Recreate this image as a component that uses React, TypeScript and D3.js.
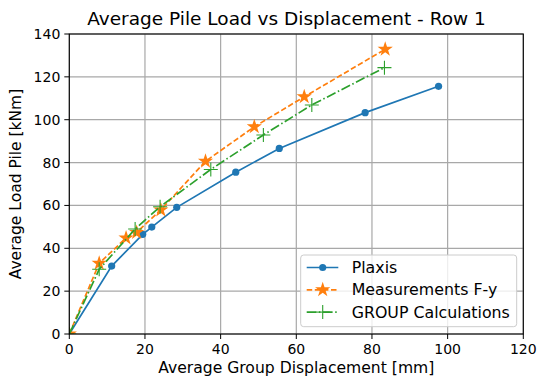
import React from "react";
import * as d3 from "d3";

const plaxisX = [0, 11.2, 19.4, 21.8, 28.4, 44.0, 55.5, 78.2, 97.6];
const plaxisY = [0, 31.7, 46.5, 49.9, 59.1, 75.5, 86.6, 103.3, 115.6];
const measX = [0, 7.9, 15.0, 17.8, 24.2, 36.0, 48.9, 62.1, 83.5];
const measY = [0, 33.0, 44.8, 47.4, 57.9, 80.6, 96.7, 110.7, 132.9];
const groupX = [0, 7.9, 17.4, 24.0, 37.4, 51.3, 64.1, 83.3];
const groupY = [0, 30.2, 49.0, 59.4, 76.8, 92.9, 106.9, 124.3];
const xTicks = [0, 20, 40, 60, 80, 100, 120];
const yTicks = [0, 20, 40, 60, 80, 100, 120, 140];
const seriesNames = ["Plaxis", "Measurements F-y", "GROUP Calculations"];
const colors = ["#1f77b4", "#ff7f0e", "#2ca02c"];

const W = 539, H = 378;
const M = { left: 69.3, right: 523.3, top: 34, bottom: 334 };
const FONT = "DejaVu Sans, sans-serif";

function starPath(R: number) {
  const r = R * 0.381966;
  const pts: string[] = [];
  for (let i = 0; i < 10; i++) {
    const a = -Math.PI / 2 + (i * Math.PI) / 5;
    const rr = i % 2 === 0 ? R : r;
    pts.push(`${(rr * Math.cos(a)).toFixed(2)},${(rr * Math.sin(a)).toFixed(2)}`);
  }
  return "M" + pts.join("L") + "Z";
}

function Marker({ kind, x, y, color }: { kind: number; x: number; y: number; color: string }) {
  if (kind === 0) return <circle cx={x} cy={y} r={3.6} fill={color} />;
  if (kind === 1) return <path d={starPath(8)} transform={`translate(${x},${y})`} fill={color} />;
  return (
    <g transform={`translate(${x},${y})`} stroke={color} strokeWidth={1.1}>
      <line x1={-7} x2={7} y1={0} y2={0} />
      <line x1={0} x2={0} y1={-7} y2={7} />
    </g>
  );
}

export default function App() {
  const x = d3.scaleLinear().domain([0, 120]).range([M.left, M.right]);
  const y = d3.scaleLinear().domain([0, 140]).range([M.bottom, M.top]);
  const line = d3.line<[number, number]>().x((d) => x(d[0])).y((d) => y(d[1]));
  const series = [
    { xs: plaxisX, ys: plaxisY, dash: undefined as string | undefined },
    { xs: measX, ys: measY, dash: "5.5 2.6" },
    { xs: groupX, ys: groupY, dash: "9.6 2.6 1.5 2.6" },
  ];
  const legX = 300.7, legY = 255, legW = 216, legH = 71.7;
  return (
    <svg width={W} height={H} style={{ position: "absolute", left: 0, top: 0, background: "#fff" }} fontFamily={FONT}>
      <rect width={W} height={H} fill="#fff" />
      <defs>
        <clipPath id="clip">
          <rect x={M.left} y={M.top - 10} width={M.right - M.left + 10} height={M.bottom - M.top + 10} />
        </clipPath>
      </defs>
      {xTicks.map((t) => (
        <line key={"gx" + t} x1={x(t)} x2={x(t)} y1={M.top} y2={M.bottom} stroke="#a8a8a8" strokeWidth={1.2} />
      ))}
      {yTicks.map((t) => (
        <line key={"gy" + t} x1={M.left} x2={M.right} y1={y(t)} y2={y(t)} stroke="#a8a8a8" strokeWidth={1.2} />
      ))}
      <g clipPath="url(#clip)">
        {series.map((s, i) => (
          <g key={i}>
            <path
              d={line(s.xs.map((v, j) => [v, s.ys[j]] as [number, number])) || ""}
              fill="none"
              stroke={colors[i]}
              strokeWidth={1.7}
              strokeDasharray={s.dash}
            />
            {s.xs.map((v, j) => (
              <Marker key={j} kind={i} x={x(v)} y={y(s.ys[j])} color={colors[i]} />
            ))}
          </g>
        ))}
      </g>
      <rect x={M.left} y={M.top} width={M.right - M.left} height={M.bottom - M.top} fill="none" stroke="#000" strokeWidth={1.1} />
      {xTicks.map((t) => (
        <g key={"xt" + t}>
          <line x1={x(t)} x2={x(t)} y1={M.bottom} y2={M.bottom + 5} stroke="#000" />
          <text x={x(t)} y={M.bottom + 20} textAnchor="middle" fontSize={14}>{t}</text>
        </g>
      ))}
      {yTicks.map((t) => (
        <g key={"yt" + t}>
          <line x1={M.left - 5} x2={M.left} y1={y(t)} y2={y(t)} stroke="#000" />
          <text x={M.left - 9} y={y(t) + 5} textAnchor="end" fontSize={14}>{t}</text>
        </g>
      ))}
      <text x={(M.left + M.right) / 2} y={373} textAnchor="middle" fontSize={15.6}>Average Group Displacement [mm]</text>
      <text transform={`translate(21,${(M.top + M.bottom) / 2}) rotate(-90)`} textAnchor="middle" fontSize={15.5}>Average Load Pile [kNm]</text>
      <text x={286.5} y={25} textAnchor="middle" fontSize={18.5}>Average Pile Load vs Displacement - Row 1</text>
      <g>
        <rect x={legX} y={legY} width={legW} height={legH} rx={3} fill="#fff" fillOpacity={0.8} stroke="#cccccc" />
        {seriesNames.map((n, i) => {
          const cy = legY + 12.5 + i * 22.3;
          return (
            <g key={n}>
              <line x1={legX + 6} x2={legX + 37.6} y1={cy} y2={cy} stroke={colors[i]} strokeWidth={1.7} strokeDasharray={series[i].dash} />
              <Marker kind={i} x={legX + 22} y={cy} color={colors[i]} />
              <text x={legX + 51} y={cy + 5.5} fontSize={15.8}>{n}</text>
            </g>
          );
        })}
      </g>
    </svg>
  );
}
